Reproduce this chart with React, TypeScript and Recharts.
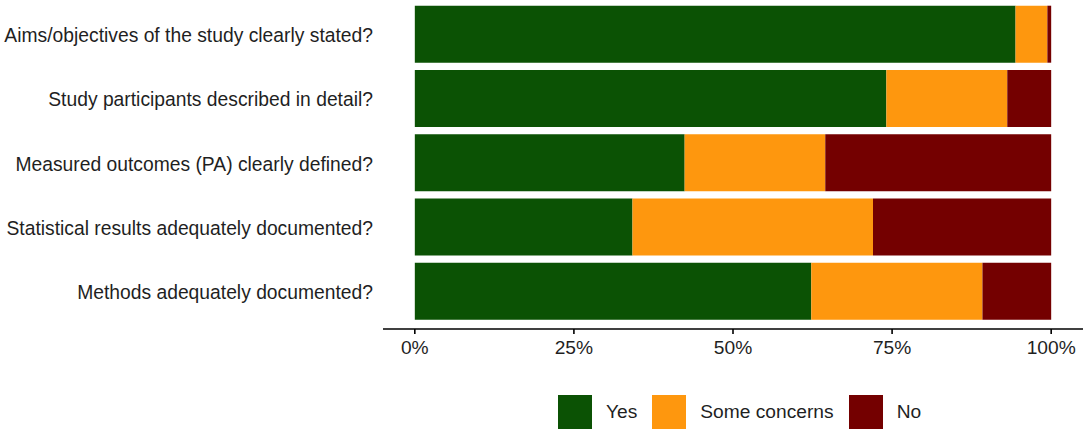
import { Bar, BarChart, Legend, XAxis, YAxis } from "recharts";

const questions = [
  "Aims/objectives of the study clearly stated?",
  "Study participants described in detail?",
  "Measured outcomes (PA) clearly defined?",
  "Statistical results adequately documented?",
  "Methods adequately documented?",
];

const yesShare = [94.4, 74.1, 42.4, 34.2, 62.3];
const someConcernsShare = [5.0, 19.0, 22.1, 37.8, 26.9];
const noShare = [0.6, 6.9, 35.5, 28.0, 10.8];

const xTicks = [0, 25, 50, 75, 100];

const seriesInfo = [
  { key: "yes", label: "Yes", color: "#0B5204" },
  { key: "some", label: "Some concerns", color: "#FE970E" },
  { key: "no", label: "No", color: "#740000" },
];

const FONT = "'Liberation Sans', Arial, sans-serif";
const TEXT = "#1f1f1f";

const data = questions.map((q, i) => ({
  question: q,
  yes: yesShare[i],
  some: someConcernsShare[i],
  no: noShare[i],
}));

function LegendBox() {
  return (
    <div
      style={{
        display: "flex",
        alignItems: "center",
        height: 34,
        paddingLeft: 558,
        fontFamily: FONT,
        fontSize: 19.2,
        color: TEXT,
      }}
    >
      {seriesInfo.map((s) => (
        <div key={s.key} style={{ display: "flex", alignItems: "center", marginRight: 15 }}>
          <div style={{ width: 34, height: 34, background: s.color }} />
          <span style={{ marginLeft: 14, lineHeight: "34px" }}>{s.label}</span>
        </div>
      ))}
    </div>
  );
}

export default function App() {
  return (
    <div style={{ position: "absolute", left: 0, top: 0, width: 1084, height: 437, background: "#fff" }}>
      <BarChart
        width={1084}
        height={437}
        data={data}
        layout="vertical"
        margin={{ top: 0, right: 1, left: 0, bottom: 34 }}
      >
        <XAxis
          type="number"
          domain={[-5, 105]}
          ticks={xTicks}
          allowDataOverflow
          tickFormatter={(v: number) => `${v}%`}
          height={40}
          tickSize={5}
          tickMargin={6}
          axisLine={{ stroke: "#000", strokeWidth: 1.6 }}
          tickLine={{ stroke: "#000", strokeWidth: 1.6 }}
          tick={{ fill: TEXT, fontSize: 19.2, fontFamily: FONT }}
        />
        <YAxis
          type="category"
          dataKey="question"
          width={383}
          padding={{ top: 1.7, bottom: 6.1 }}
          axisLine={false}
          tickLine={false}
          tickSize={0}
          tickMargin={10}
          tick={{ fill: TEXT, fontSize: 19.3, fontFamily: FONT, dy: 1.5 }}
        />
        <Legend
          verticalAlign="bottom"
          content={() => <LegendBox />}
          wrapperStyle={{ left: 0, top: 395, bottom: "auto", width: 1084, height: 34 }}
        />
        {seriesInfo.map((s) => (
          <Bar
            key={s.key}
            dataKey={s.key}
            stackId="a"
            fill={s.color}
            barSize={57}
            isAnimationActive={false}
            legendType="square"
          />
        ))}
      </BarChart>
    </div>
  );
}
